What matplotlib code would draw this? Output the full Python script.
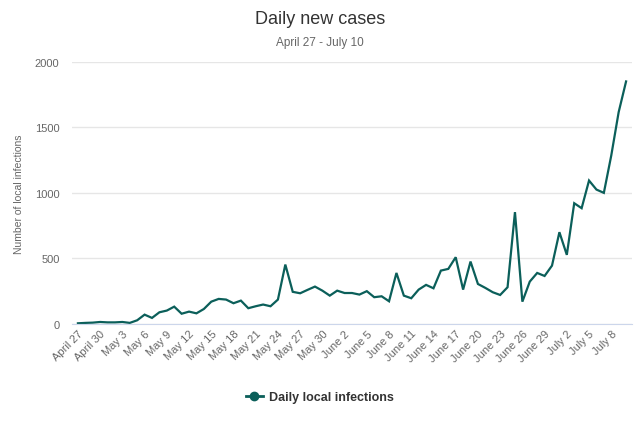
import datetime as dt
import numpy as np
import matplotlib
matplotlib.use("Agg")
from matplotlib import pyplot as plt
from matplotlib.lines import Line2D

plt.rcParams['font.family'] = ['Liberation Sans', 'DejaVu Sans']

# daily local infections, April 27 - July 10
cases = [5, 8, 10, 15, 12, 12, 15, 8, 28, 71,
         46, 89, 102, 132, 78, 94, 81, 114, 170, 191,
         186, 158, 178, 120, 135, 148, 135, 186, 453, 245,
         234, 260, 285, 254, 216, 254, 236, 236, 224, 250,
         204, 211, 173, 389, 216, 196, 262, 298, 272, 407,
         420, 509, 262, 476, 305, 275, 242, 221, 280, 853,
         170, 323, 389, 366, 445, 700, 527, 921, 883, 1094,
         1025, 1000, 1285, 1616, 1850]

start = dt.date(2020, 4, 27)
days = [start + dt.timedelta(days=i) for i in range(len(cases))]
tick_idx = list(range(0, len(cases), 3))
tick_labels = [days[i].strftime('%B ') + str(days[i].day) for i in tick_idx]

teal = '#0b5f5a'
grey = '#666666'

fig = plt.figure(figsize=(6.4, 4.27), dpi=100)
ax = fig.add_axes([0.1125, 0.239, 0.875, 0.614])

x = np.arange(len(cases))
ax.plot(x, cases, color=teal, lw=1.6, solid_joinstyle='miter')

ax.set_xlim(-0.8, len(cases) - 0.2)
ax.set_ylim(0, 2000)
ax.set_yticks([0, 500, 1000, 1500, 2000])
ax.yaxis.grid(True, color='#e6e6e6', lw=1)
ax.set_axisbelow(True)
for s in ['top', 'right', 'left']:
    ax.spines[s].set_visible(False)
ax.spines['bottom'].set_color('#ccd6eb')
ax.tick_params(axis='y', length=0, labelsize=8, labelcolor=grey, pad=9)
ax.tick_params(axis='x', length=0, labelsize=8, labelcolor=grey, pad=3)
ax.set_xticks(tick_idx)
ax.set_xticklabels(tick_labels, rotation=45, ha='right', rotation_mode='anchor')
ax.set_ylabel('Number of local infections', fontsize=7.5, color=grey)
ax.yaxis.set_label_coords(-0.085, 0.5)

fig.text(0.5, 0.955, 'Daily new cases', ha='center', va='center', fontsize=13, color='#333333')
fig.text(0.5, 0.9, 'April 27 - July 10', ha='center', va='center', fontsize=8.5, color=grey)

h = Line2D([], [], color=teal, lw=2, marker='o', markersize=6)
fig.legend([h], ['Daily local infections'], loc='center', bbox_to_anchor=(0.5, 0.067),
           frameon=False, prop={'weight': 'bold', 'size': 9}, handlelength=1.4,
           handletextpad=0.5, labelcolor='#333333')

fig.savefig('out.png', dpi=100)
